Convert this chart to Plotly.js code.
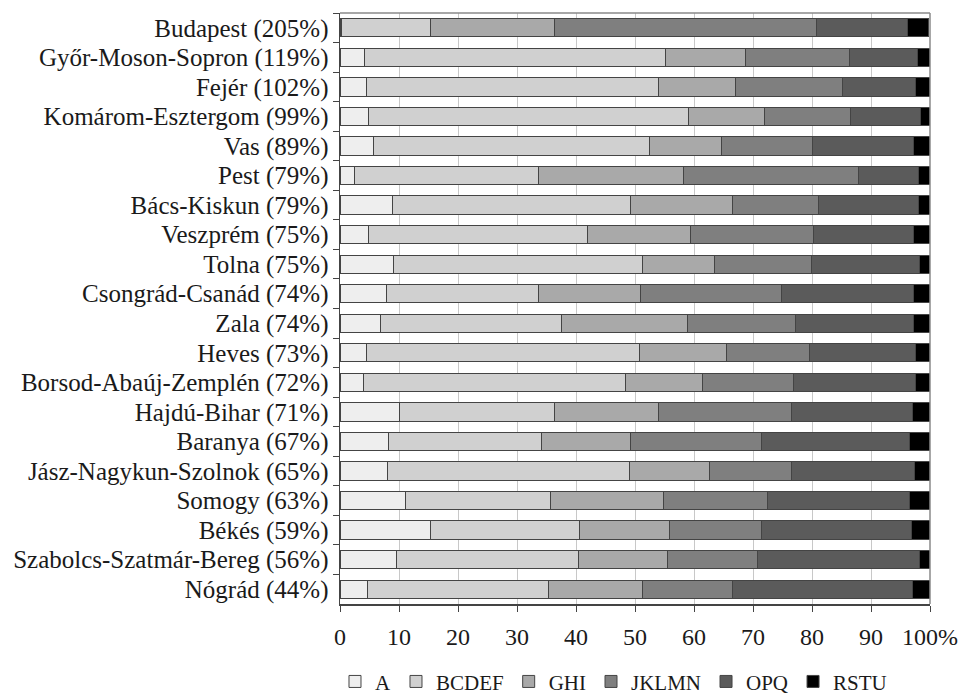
<!DOCTYPE html>
<html>
<head>
<meta charset="utf-8">
<script src="https://cdn.plot.ly/plotly-3.0.1.min.js"></script>
<style>
html,body{margin:0;padding:0;background:#fff;}
#chart{width:971px;height:695px;}
</style>
</head>
<body>
<div id="chart"></div>
<script>
const regions = ["Budapest","Győr-Moson-Sopron","Fejér","Komárom-Esztergom","Vas","Pest","Bács-Kiskun","Veszprém","Tolna","Csongrád-Csanád","Zala","Heves","Borsod-Abaúj-Zemplén","Hajdú-Bihar","Baranya","Jász-Nagykun-Szolnok","Somogy","Békés","Szabolcs-Szatmár-Bereg","Nógrád"];
const regionPct = [205,119,102,99,89,79,79,75,75,74,74,73,72,71,67,65,63,59,56,44];

const seriesNames = ["A","BCDEF","GHI","JKLMN","OPQ","RSTU"];
const A     = [0.2, 4.2, 4.5, 4.9, 5.7, 2.5, 8.9, 4.9, 9.1, 7.9, 6.8, 4.5, 4.0, 10.1, 8.2, 8.1, 11.1, 15.4, 9.5, 4.7];
const BCDEF = [15.1, 50.9, 49.4, 54.1, 46.7, 31.1, 40.4, 37.1, 42.2, 25.7, 30.8, 46.2, 44.4, 26.2, 25.9, 41.0, 24.6, 25.2, 31.0, 30.6];
const GHI   = [21.0, 13.7, 13.1, 13.0, 12.3, 24.6, 17.2, 17.4, 12.1, 17.4, 21.3, 14.8, 13.0, 17.6, 15.2, 13.5, 19.2, 15.3, 15.0, 16.0];
const JKLMN = [44.4, 17.6, 18.1, 14.6, 15.4, 29.6, 14.6, 20.8, 16.5, 23.9, 18.3, 14.1, 15.5, 22.7, 22.2, 13.9, 17.6, 15.6, 15.3, 15.3];
const OPQ   = [15.5, 11.5, 12.5, 11.8, 17.1, 10.2, 16.9, 17.0, 18.3, 22.3, 20.0, 17.9, 20.6, 20.4, 25.0, 20.9, 24.0, 25.3, 27.4, 30.4];
const RSTU  = [3.6, 2.2, 2.4, 1.6, 2.8, 2.0, 2.0, 2.8, 1.8, 2.8, 2.8, 2.5, 2.5, 3.0, 3.5, 2.6, 3.5, 3.2, 1.8, 3.0];

const xTickVals = [0,10,20,30,40,50,60,70,80,90,100];
const xTickText = ["0","10","20","30","40","50","60","70","80","90","100%"];

const colors = ["#eeeeee","#d0d0d0","#a9a9a9","#7f7f7f","#5b5b5b","#000000"];
const seriesValues = [A, BCDEF, GHI, JKLMN, OPQ, RSTU];

const labels = regions.map((r,i) => r + " (" + regionPct[i] + "%)");

const FONT = "Liberation Serif, DejaVu Serif, serif";

const traces = seriesValues.map((vals, k) => ({
  type: "bar",
  orientation: "h",
  name: seriesNames[k],
  y: labels,
  x: vals,
  marker: {color: colors[k], line: {color: "#444444", width: 1}},
  hoverinfo: "x+name"
}));

const layout = {
  width: 971,
  height: 695,
  margin: {l: 340, r: 41, t: 13, b: 91, pad: 0, autoexpand: false},
  paper_bgcolor: "#ffffff",
  plot_bgcolor: "#ffffff",
  barmode: "stack",
  bargap: 0.38,
  font: {family: FONT, size: 24, color: "#1a1a1a"},
  xaxis: {
    range: [0, 100],
    tickvals: xTickVals,
    ticktext: xTickText,
    showgrid: true,
    gridcolor: "#c8c8c8",
    gridwidth: 1,
    zeroline: false,
    showline: true,
    linecolor: "#444444",
    linewidth: 1.5,
    ticks: "outside",
    ticklen: 6,
    tickcolor: "#444444",
    ticklabelstandoff: 5,
    tickfont: {family: FONT, size: 24, color: "#1a1a1a"},
    automargin: false,
    fixedrange: true
  },
  yaxis: {
    type: "category",
    autorange: "reversed",
    dtick: 1,
    showgrid: false,
    zeroline: false,
    showline: true,
    linecolor: "#444444",
    linewidth: 1.5,
    ticks: "outside",
    tickson: "boundaries",
    ticklen: 6,
    tickcolor: "#444444",
    tickfont: {family: FONT, size: 25, color: "#1a1a1a"},
    ticklabelstandoff: 5,
    automargin: false,
    fixedrange: true
  },
  legend: {
    orientation: "h",
    xref: "container",
    yref: "container",
    x: 0.345,
    xanchor: "left",
    y: 0.019,
    yanchor: "middle",
    itemwidth: 30,
    font: {family: FONT, size: 21, color: "#1a1a1a"},
    traceorder: "normal",
    itemclick: false,
    itemdoubleclick: false
  },
  shapes: [
    {type: "line", xref: "paper", yref: "paper", x0: 0, x1: 1, y0: 1, y1: 1, line: {color: "#8a8a8a", width: 1.5}},
    {type: "line", xref: "paper", yref: "paper", x0: 1, x1: 1, y0: 0, y1: 1, line: {color: "#8a8a8a", width: 1.5}}
  ],
  showlegend: true
};

Plotly.newPlot("chart", traces, layout, {displayModeBar: false, staticPlot: true});
</script>
</body>
</html>
